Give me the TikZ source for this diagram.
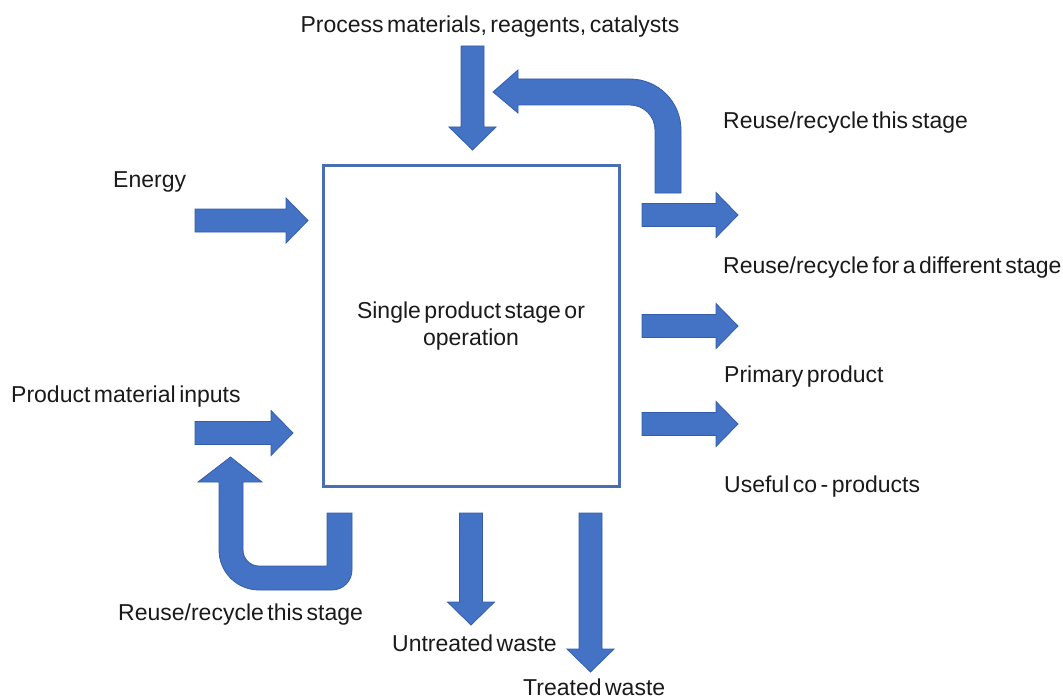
\documentclass[tikz,border=0pt]{standalone}
\usepackage{fontspec}
\setmainfont{Liberation Sans}[WordSpace=0.55]
\definecolor{arrowblue}{RGB}{68,114,196}
\definecolor{arrowedge}{RGB}{52,94,170}
\definecolor{boxblue}{RGB}{74,110,180}
\definecolor{textgray}{RGB}{26,26,26}

% horizontal block arrow: start x, tip x, centre y
\newcommand{\hblockarrow}[3]{%
  \filldraw[blockarrow] (#1,{#3-11.5}) -- ({#2-22},{#3-11.5}) -- ({#2-22},{#3-22.5})
    -- (#2,#3) -- ({#2-22},{#3+22.5}) -- ({#2-22},{#3+11.5}) -- (#1,{#3+11.5}) -- cycle;}
% vertical (downward) block arrow: centre x, start y, tip y
\newcommand{\vblockarrow}[3]{%
  \filldraw[blockarrow] ({#1-11.5},#2) -- ({#1-11.5},{#3-23}) -- ({#1-23.5},{#3-23})
    -- (#1,#3) -- ({#1+23.5},{#3-23}) -- ({#1+11.5},{#3-23}) -- ({#1+11.5},#2) -- cycle;}

\begin{document}
\begin{tikzpicture}[x=1pt,y=-1pt,
  lbl/.style={font=\fontsize{23}{27}\selectfont, text=textgray, inner sep=0pt},
  blockarrow/.style={fill=arrowblue, draw=arrowedge, line width=0.8pt, line join=miter},
  stagebox/.style={draw=boxblue, line width=3pt, fill=white,
    minimum width=296pt, minimum height=320pt, align=center,
    font=\fontsize{23}{27}\selectfont, text=textgray}]
\useasboundingbox[fill=white] (0,0) rectangle (1063,698);

% central operation
\node[stagebox] (stage) at (471,326) {Single product stage or\\operation};

% inputs
\vblockarrow{472.5}{46}{150}
\hblockarrow{195}{308}{220.5}
\hblockarrow{195}{293}{433}

% outputs on the right
\hblockarrow{642}{738}{215}
\hblockarrow{642}{738}{326}
\hblockarrow{642}{738}{424}

% waste streams
\vblockarrow{471}{513}{625}
\vblockarrow{590.5}{513}{672}

% recycle loop back to the process-materials feed
\filldraw[blockarrow] (655,193) -- (655,130) arc[start angle=0,end angle=-90,radius=25]
  -- (518,105) -- (518,113) -- (493,92) -- (518,70) -- (518,79) -- (630,79)
  arc[start angle=-90,end angle=0,radius=51] -- (681,193) -- cycle;

% recycle loop back to the product-material feed
\filldraw[blockarrow] (327,513) -- (327,566) -- (259,566)
  arc[start angle=90,end angle=180,radius=16] -- (243,482) -- (262,482) -- (230.5,457)
  -- (198,482) -- (219,482) -- (219,550) arc[start angle=180,end angle=90,radius=40]
  -- (332,590) arc[start angle=90,end angle=0,radius=20] -- (352,513) -- cycle;

% labels
\node[lbl, anchor=base] (procmat) at (490,33) {Process materials, reagents, catalysts};
\node[lbl, anchor=base west] (energy) at (113,187) {Energy};
\node[lbl, anchor=base west] (prodin) at (11,402) {Product material inputs};
\node[lbl, anchor=base west] (recyc1) at (723,129) {Reuse/recycle this stage};
\node[lbl, anchor=base west] (recyc2) at (723,273) {Reuse/recycle for a different stage};
\node[lbl, anchor=base west] (primary) at (724,382) {Primary product};
\node[lbl, anchor=base west] (coprod) at (724,492) {Useful co - products};
\node[lbl, anchor=base west] (recyc3) at (118,620) {Reuse/recycle this stage};
\node[lbl, anchor=base west] (untreated) at (392,651) {Untreated waste};
\node[lbl, anchor=base west] (treated) at (523,695) {Treated waste};
\end{tikzpicture}
\end{document}
